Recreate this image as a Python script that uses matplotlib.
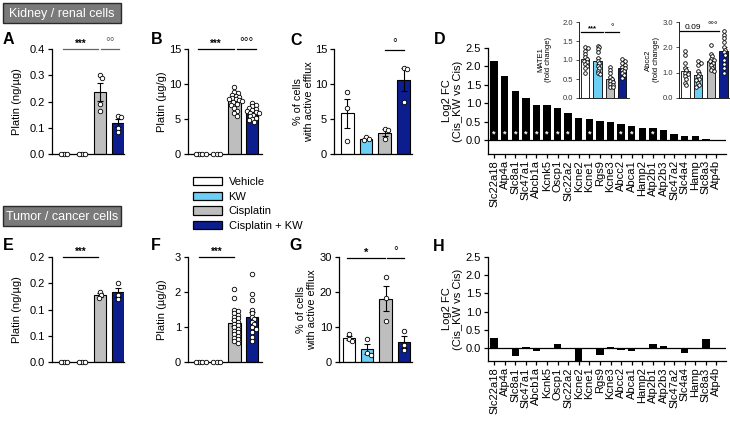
import matplotlib.pyplot as plt
import numpy as np
from matplotlib.patches import Patch, Rectangle

plt.rcParams['font.family'] = ['Liberation Sans', 'DejaVu Sans']
plt.rcParams['axes.linewidth'] = 0.9
plt.rcParams['xtick.major.width'] = 0.9
plt.rcParams['ytick.major.width'] = 0.9
plt.rcParams['xtick.major.size'] = 3
plt.rcParams['ytick.major.size'] = 3

W, H = 730, 422

# ---- data ----
groups = ['Vehicle', 'KW', 'Cisplatin', 'Cisplatin + KW']
colors = ['#FFFFFF', '#6CCFF6', '#BEBEBE', '#0C1D8E']

# kidney
kid_ng = [[0, 0, 0], [0, 0, 0],
          [0.30, 0.29, 0.19, 0.165],
          [0.145, 0.14, 0.10, 0.085]]
kid_ug = [[0, 0, 0, 0], [0, 0, 0],
          [9.6, 8.9, 8.7, 8.5, 8.3, 8.2, 8.0, 7.9, 7.8, 7.7, 7.6, 7.4, 7.2, 7.0, 6.6, 6.2, 5.8, 5.4],
          [7.3, 7.0, 6.8, 6.6, 6.5, 6.3, 6.2, 6.0, 5.9, 5.8, 5.6, 5.4, 5.2, 5.0, 4.8, 4.6]]
kid_efflux = [[8.9, 6.6, 1.9], [2.4, 2.2, 2.0], [3.6, 3.4, 2.2], [12.3, 12.2, 7.4]]

mate1 = [[1.35, 1.32, 1.25, 1.15, 1.08, 1.02, 0.98, 0.95, 0.9, 0.85, 0.78, 0.65],
         [1.38, 1.33, 1.28, 1.2, 1.05, 0.98, 0.92, 0.85, 0.8, 0.72, 0.65, 0.62],
         [0.82, 0.75, 0.65, 0.55, 0.5, 0.45, 0.42, 0.38, 0.35, 0.3, 0.28],
         [1.02, 0.98, 0.92, 0.88, 0.82, 0.78, 0.75, 0.7, 0.65, 0.6, 0.52]]
abcc2 = [[1.85, 1.7, 1.4, 1.2, 1.1, 1.0, 0.95, 0.85, 0.75, 0.6, 0.5],
         [1.45, 1.38, 1.3, 1.05, 0.95, 0.85, 0.75, 0.7, 0.6, 0.5, 0.45],
         [2.1, 1.75, 1.65, 1.55, 1.5, 1.45, 1.38, 1.3, 1.2, 1.1, 1.05],
         [2.65, 2.5, 2.35, 2.2, 2.0, 1.9, 1.8, 1.7, 1.5, 1.35, 1.2, 1.0]]

genes = ['Slc22a18', 'Atp4a', 'Slc8a1', 'Slc47a1', 'Abcb1a', 'Kcnk5', 'Oscp1',
         'Slc22a2', 'Kcne2', 'Kcne1', 'Rgs9', 'Kcne3', 'Abcc2', 'Abca1', 'Hamp2',
         'Atp2b1', 'Atp2b3', 'Slc47a2', 'Slc4a4', 'Hamp', 'Slc8a3', 'Atp4b']
kid_fc = [2.16, 1.75, 1.34, 1.14, 0.95, 0.95, 0.88, 0.74, 0.60, 0.56, 0.53,
          0.48, 0.44, 0.39, 0.33, 0.32, 0.27, 0.15, 0.11, 0.10, 0.03, 0.0]
kid_fc_sig = [1, 1, 1, 1, 1, 1, 1, 1, 0, 1, 0, 0, 1, 1, 0, 1, 0, 0, 0, 0, 0, 0]

# tumor
tum_ng = [[0, 0, 0], [0, 0, 0], [0.133, 0.127, 0.122], [0.150, 0.128, 0.120]]
tum_ug = [[0, 0, 0, 0], [0, 0, 0],
          [2.08, 1.82, 1.5, 1.45, 1.4, 1.35, 1.3, 1.25, 1.2, 1.15, 1.1, 1.05,
           1.0, 0.95, 0.9, 0.85, 0.8, 0.75, 0.7, 0.65, 0.6, 0.55],
          [2.52, 1.95, 1.78, 1.5, 1.4, 1.3, 1.22, 1.15, 1.08, 1.0, 0.95, 0.85, 0.72, 0.6]]
tum_efflux = [[8.0, 6.5, 6.0], [6.7, 2.5, 2.0], [24.3, 18.2, 11.8], [8.9, 4.8, 3.3]]
tum_fc = [0.26, 0.0, -0.21, 0.02, -0.08, -0.04, 0.10, -0.02, -0.36, 0.0, -0.19,
          0.02, -0.05, -0.09, 0.0, 0.12, 0.05, 0.0, -0.13, -0.02, 0.24, 0.0]
tum_ng_ticks = [0, 0.05, 0.1, 0.15, 0.2]
tum_ng_labels = ['0.0', '0.1', '0.1', '0.2', '0.2']

fig = plt.figure(figsize=(W / 100, H / 100), dpi=100)


def px_axes(x0, y0, x1, y1):
    return fig.add_axes([x0 / W, 1 - y1 / H, (x1 - x0) / W, (y1 - y0) / H])


def swarm_x(ax, xc, vals, d):
    # simple beeswarm in pixel space
    tr = ax.transData
    ppu = tr.transform((1, 0))[0] - tr.transform((0, 0))[0]
    vals = np.asarray(vals, float)
    xs = np.zeros(len(vals))
    placed = []
    for i in np.argsort(-vals, kind='stable'):
        yp = tr.transform((0, vals[i]))[1]
        for k in range(60):
            off = ((k + 1) // 2) * 0.25 * d * (1 if k % 2 else -1)
            if all(np.hypot(off - a, yp - b) >= 0.72 * d for a, b in placed):
                break
        placed.append((off, yp))
        xs[i] = xc + off / ppu
    return xs


def style(ax, ylim, yticks, fs=8, labels=None):
    ax.set_ylim(*ylim)
    ax.set_yticks(yticks)
    if labels is not None:
        ax.set_yticklabels(labels)
    ax.tick_params(axis='y', labelsize=fs, pad=2)
    ax.spines['top'].set_visible(False)
    ax.spines['right'].set_visible(False)


def bar_panel(ax, data, xlim, ylim, yticks, labels=None, d=4.5, fs=8, lw=0.8):
    ax.set_xlim(*xlim)
    style(ax, ylim, yticks, fs, labels)
    ax.set_xticks([])
    for i, vals in enumerate(data):
        v = np.asarray(vals, float)
        m = v.mean()
        se = v.std(ddof=1) / np.sqrt(len(v))
        ax.bar(i, m, width=0.68, color=colors[i], edgecolor='black', lw=lw, zorder=1)
        if se > 0:
            ax.errorbar(i, m, yerr=se, color='black', lw=lw, capsize=d * 0.5,
                        capthick=lw, zorder=2)
        ms = (d * 0.72) ** 2
        ax.scatter(swarm_x(ax, i, v, d), v, s=ms, facecolor='white',
                   edgecolor='black', lw=0.6, zorder=3, clip_on=False)


def sig(ax, x0, x1, y, txt, fs=7, color='black', dy=0.0):
    ax.plot([x0, x1], [y, y], color=color, lw=0.9, clip_on=False)
    if '°' in txt:
        ax.text((x0 + x1) / 2, y, txt, ha='center', va='bottom', fontsize=fs + 1.5,
                color=color)
    else:
        ax.text((x0 + x1) / 2, y + dy, txt, ha='center', va='bottom', fontsize=fs,
                fontweight='bold', color='black')


def ylab(ax, txt, right_px, x0, x1, fs=8):
    ax.set_ylabel(txt, fontsize=fs, linespacing=1.15)
    ax.yaxis.set_label_coords((right_px - x0) / (x1 - x0), 0.5)


def fc_panel(ax, vals, ylim, sigs=None):
    x = np.arange(len(genes))
    ax.set_xlim(-0.57, 21.9)
    style(ax, ylim, [0, 0.5, 1.0, 1.5, 2.0, 2.5])
    ax.yaxis.set_major_formatter(plt.FormatStrFormatter('%.1f'))
    ax.bar(x, vals, width=0.7, color='black', zorder=2)
    ax.axhline(0, color='black', lw=0.9, zorder=3)
    ax.set_xticks(x)
    ax.set_xticklabels(genes, rotation=90, fontsize=8)
    ax.tick_params(axis='x', pad=1.5)
    if sigs is not None:
        for i, s in enumerate(sigs):
            if s:
                ax.text(i, 0.05, '*', color='white', ha='center', va='bottom',
                        fontsize=6.5, fontweight='bold', zorder=4)


# ---- Kidney row ----
axA = px_axes(52, 49, 124, 154)
bar_panel(axA, kid_ng, (-0.67, 3.35), (0, 0.4), [0, 0.1, 0.2, 0.3, 0.4])
axA.yaxis.set_major_formatter(plt.FormatStrFormatter('%.1f'))
ylab(axA, 'Platin (ng/µg)', 22, 52, 124)
sig(axA, -0.05, 1.9, 0.4, '***', color='#666666')
sig(axA, 2.05, 3.05, 0.4, '°°', color='#666666')

axB = px_axes(188, 49, 262, 154)
bar_panel(axB, kid_ug, (-0.62, 3.55), (0, 15), [0, 5, 10, 15])
ylab(axB, 'Platin (µg/g)', 167, 188, 262)
sig(axB, -0.05, 1.95, 15, '***')
sig(axB, 2.15, 3.2, 15, '°°°')

axC = px_axes(334, 49, 412, 154)
bar_panel(axC, kid_efflux, (-0.7, 3.45), (0, 15), [0, 5, 10, 15])
ylab(axC, '% of cells\nwith active efflux', 314, 334, 412, fs=7.8)
sig(axC, 2.0, 3.0, 14.8, '°')

axD = px_axes(488, 48, 726, 154)
fc_panel(axD, kid_fc, (-0.38, 2.5), kid_fc_sig)
ylab(axD, 'Log2 FC\n(Cis_KW vs Cis)', 463, 488, 726)

# insets
axM = px_axes(579, 22, 629, 98)
bar_panel(axM, mate1, (-0.5, 3.55), (0, 2.0), [0, 0.5, 1.0, 1.5, 2.0], d=3.6, fs=5.5, lw=0.6)
axM.yaxis.set_major_formatter(plt.FormatStrFormatter('%.1f'))
axM.tick_params(axis='y', length=2, width=0.6, colors='#333333')
for s in axM.spines.values():
    s.set_linewidth(0.6)
ylab(axM, 'MATE1\n(fold change)', 552, 579, 629, fs=5.5)
sig(axM, -0.36, 1.48, 1.74, '***', fs=5.5)
sig(axM, 1.64, 2.76, 1.74, '°', fs=5)

axK = px_axes(679, 22, 730, 98)
bar_panel(axK, abcc2, (-0.5, 3.5), (0, 3.0), [0, 1.0, 2.0, 3.0], d=3.6, fs=5.5, lw=0.6)
axK.yaxis.set_major_formatter(plt.FormatStrFormatter('%.1f'))
axK.tick_params(axis='y', length=2, width=0.6, colors='#333333')
for s in axK.spines.values():
    s.set_linewidth(0.6)
ylab(axK, 'Abcc2\n(fold change)', 660, 679, 730, fs=5.5)
axK.plot([-0.45, 1.56], [2.66, 2.66], color='black', lw=0.9, clip_on=False)
axK.text(0.55, 2.66, '0.09', ha='center', va='bottom', fontsize=6)
sig(axK, 1.64, 2.6, 2.66, '°°°', fs=5)

# ---- Tumor row ----
axE = px_axes(52, 257, 124, 362)
bar_panel(axE, tum_ng, (-0.67, 3.35), (0, 0.2), tum_ng_ticks, labels=tum_ng_labels)
ylab(axE, 'Platin (ng/µg)', 22, 52, 124)
sig(axE, -0.05, 1.9, 0.2, '***')

axF = px_axes(188, 257, 262, 362)
bar_panel(axF, tum_ug, (-0.62, 3.55), (0, 3), [0, 1, 2, 3])
ylab(axF, 'Platin (µg/g)', 167, 188, 262)
sig(axF, 0.0, 1.95, 3, '***')

axG = px_axes(339, 257, 412, 362)
bar_panel(axG, tum_efflux, (-0.55, 3.45), (0, 30), [0, 10, 20, 30])
ylab(axG, '% of cells\nwith active efflux', 317, 339, 412, fs=7.8)
sig(axG, -0.1, 1.95, 29.7, '*', fs=8)
sig(axG, 2.1, 3.0, 29.7, '°')

axH = px_axes(488, 257, 726, 361)
fc_panel(axH, tum_fc, (-0.36, 2.5))
ylab(axH, 'Log2 FC\n(Cis_KW vs Cis)', 463, 488, 726)

# ---- legend ----
handles = [Patch(facecolor=c, edgecolor='black', lw=0.9, label=g) for c, g in zip(colors, groups)]
fig.legend(handles=handles, loc='upper left', bbox_to_anchor=(193 / W, 1 - 177 / H),
           frameon=False, fontsize=8, handlelength=2.6, handleheight=0.75,
           labelspacing=0.42, handletextpad=0.6, borderaxespad=0, borderpad=0)

# ---- section headers & panel letters ----
for y0, txt in [(3, 'Kidney / renal cells'), (206, 'Tumor / cancer cells')]:
    fig.add_artist(Rectangle((3 / W, 1 - (y0 + 20) / H), 118 / W, 20 / H,
                             transform=fig.transFigure, facecolor='#7a7a7a',
                             edgecolor='#2a2a2a', lw=1))
    fig.text(62 / W, 1 - (y0 + 10.5) / H, txt, color='white', fontsize=9,
             ha='center', va='center')

for lx, ly, letter in [(3, 32, 'A'), (151, 32, 'B'), (290, 33, 'C'), (434, 32, 'D'),
                       (3, 238, 'E'), (151, 238, 'F'), (289, 238, 'G'), (433, 239, 'H')]:
    fig.text(lx / W, 1 - ly / H, letter, fontsize=11.5, fontweight='heavy',
             ha='left', va='top')

fig.savefig('out.png', dpi=100)
